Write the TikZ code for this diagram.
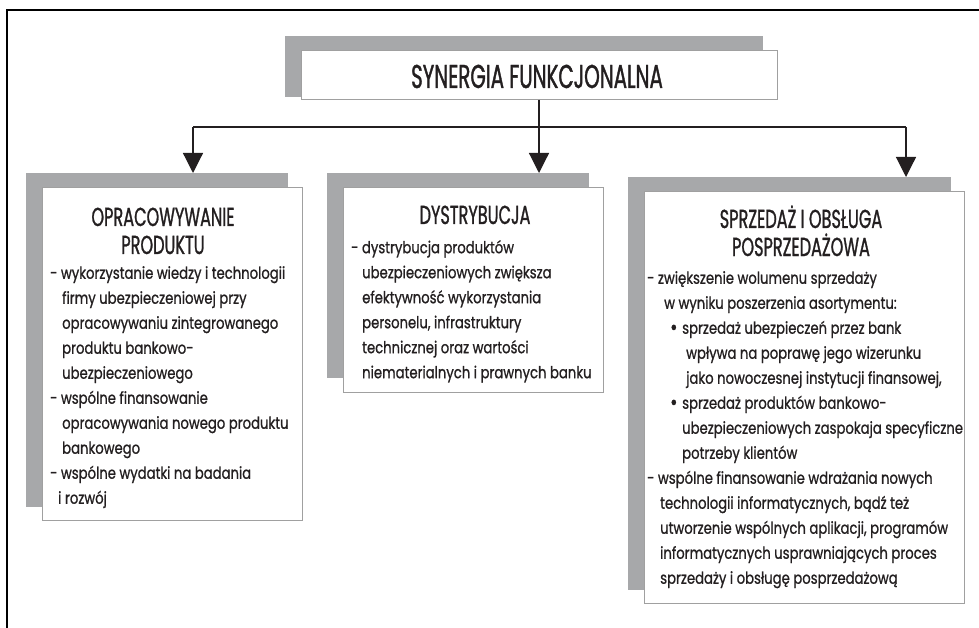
\documentclass[tikz,border=0pt]{standalone}
\usepackage{fontspec}
\setmainfont{Poppins}[FakeStretch=0.8, FakeBold=0.9]
\newfontfamily\headfont{Poppins}[FakeStretch=0.62, FakeBold=1.0]
\newfontfamily\titlefont{Poppins}[FakeStretch=0.6, FakeBold=1.1]
\usetikzlibrary{arrows.meta}
\definecolor{shade}{HTML}{A7A8AA}
\definecolor{edge}{HTML}{A0A0A0}
\definecolor{ink}{HTML}{231F20}
\tikzset{
  shadowbox/.style={fill=shade, draw=none, inner sep=0pt, outer sep=0pt, anchor=north west},
  whitebox/.style={fill=white, draw=edge, line width=1pt, inner sep=0pt, outer sep=0pt, anchor=north west},
  conn/.style={line width=1.2pt, draw=ink},
  arrowconn/.style={conn, -{Triangle[width=20pt,length=20pt]}},
  titletext/.style={font=\titlefont\fontsize{33}{36}\selectfont, text=ink, anchor=base, inner sep=0pt},
  headtext/.style={font=\headfont\fontsize{26}{28}\selectfont, text=ink, anchor=base, inner sep=0pt},
  bodytext/.style={font=\fontsize{16.5}{25}\selectfont, text=ink, align=left, anchor=north west, inner sep=0pt},
  frameline/.style={line width=1.6pt, draw=black},
}
\newcommand{\bigdot}{\makebox[12pt][l]{\raisebox{-1pt}{\fontsize{22}{25}\selectfont •}}}
\begin{document}
\begin{tikzpicture}[x=1pt, y=-1pt]
\useasboundingbox (0,0) rectangle (979,628);
% outer frame (clipped by page on the right and bottom)
\draw[frameline] (7,628) -- (7,10) -- (979,10);

% title
\node[shadowbox, minimum width=478pt, minimum height=61pt] (ts) at (285,36) {};
\node[whitebox, minimum width=476pt, minimum height=49pt] (t) at (301,51) {};
\node[titletext] (tt) at (537,88) {SYNERGIA FUNKCJONALNA};

% left box
\node[shadowbox, minimum width=262pt, minimum height=334pt] (ls) at (26,173) {};
\node[whitebox, minimum width=260pt, minimum height=332pt] (l) at (42,188) {};
\node[headtext] (lh1) at (163,226) {OPRACOWYWANIE};
\node[headtext] (lh2) at (163,254) {PRODUKTU};
\node[bodytext] (lb) at (50,266) {%
- wykorzystanie wiedzy i technologii\\
\hspace*{12pt}firmy ubezpieczeniowej przy\\
\hspace*{12pt}opracowywaniu zintegrowanego\\
\hspace*{12pt}produktu bankowo-\\
\hspace*{12pt}ubezpieczeniowego\\
- wspólne finansowanie\\
\hspace*{12pt}opracowywania nowego produktu\\
\hspace*{12pt}bankowego\\
- wspólne wydatki na badania\\
\hspace*{8pt}i rozwój};

% middle box
\node[shadowbox, minimum width=262pt, minimum height=205pt] (ms) at (327,173) {};
\node[whitebox, minimum width=260pt, minimum height=204pt] (m) at (343,188) {};
\node[headtext] (mh) at (475,224) {DYSTRYBUCJA};
\node[bodytext] (mb) at (351,240) {%
- dystrybucja produktów\\
\hspace*{11pt}ubezpieczeniowych zwiększa\\
\hspace*{11pt}efektywność wykorzystania\\
\hspace*{11pt}personelu, infrastruktury\\
\hspace*{11pt}technicznej oraz wartości\\
\hspace*{11pt}niematerialnych i prawnych banku};

% right box
\node[shadowbox, minimum width=323pt, minimum height=413pt] (rs) at (628,177) {};
\node[whitebox, minimum width=320pt, minimum height=411pt] (r) at (644,192) {};
\node[headtext] (rh1) at (801,228) {SPRZEDAŻ I OBSŁUGA};
\node[headtext] (rh2) at (801,256) {POSPRZEDAŻOWA};
\node[bodytext] (rb) at (647,271) {%
- zwiększenie wolumenu sprzedaży\\
\hspace*{17pt}w wyniku poszerzenia asortymentu:\\
\hspace*{23pt}\bigdot sprzedaż ubezpieczeń przez bank\\
\hspace*{39pt}wpływa na poprawę jego wizerunku\\
\hspace*{39pt}jako nowoczesnej instytucji finansowej,\\
\hspace*{23pt}\bigdot sprzedaż produktów bankowo-\\
\hspace*{35pt}ubezpieczeniowych zaspokaja specyficzne\\
\hspace*{35pt}potrzeby klientów\\
- wspólne finansowanie wdrażania nowych\\
\hspace*{13pt}technologii informatycznych, bądź też\\
\hspace*{13pt}utworzenie wspólnych aplikacji, programów\\
\hspace*{13pt}informatycznych usprawniających proces\\
\hspace*{13pt}sprzedaży i obsługę posprzedażową};

% connectors
\coordinate (hl) at (193,127);
\coordinate (hr) at (906,127);
\draw[conn] (hl) -- (hr);
\draw[arrowconn] (t.south) -- (t.south |- ms.north);
\draw[arrowconn] (hl) -- (hl |- ls.north);
\draw[arrowconn] (hr) -- (hr |- rs.north);
\end{tikzpicture}
\end{document}
